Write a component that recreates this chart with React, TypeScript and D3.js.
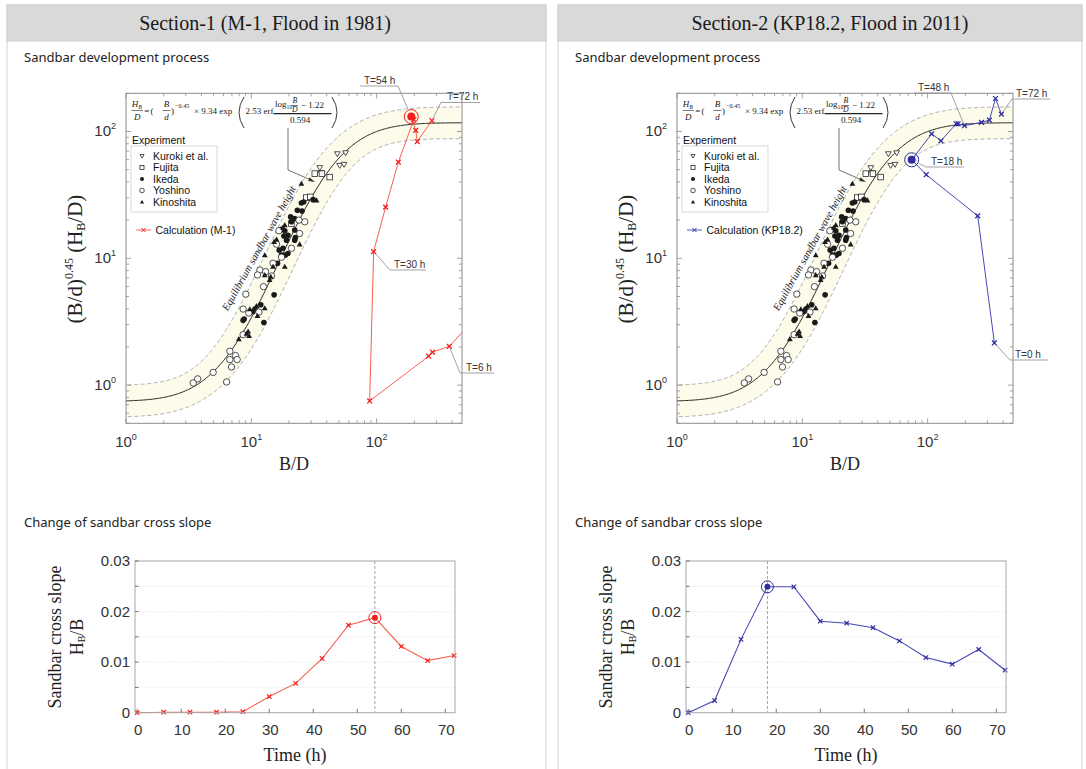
import React from "react";
import * as d3 from "d3";

// ---------------- data ----------------
const hours = [0, 6, 12, 18, 24, 30, 36, 42, 48, 54, 60, 66, 72];
const slopeM1 = [0, 0.0001, 0.0001, 0.0001, 0.0002, 0.0032, 0.0058, 0.0107, 0.0173, 0.0188, 0.0131, 0.0103, 0.0113];
const slopeKP = [0, 0.0024, 0.0145, 0.0249, 0.0249, 0.0181, 0.0177, 0.0168, 0.0142, 0.0109, 0.0096, 0.0125, 0.0084];

const calcM1BD = [600, 380, 279, 260, 88, 94.6, 118, 149, 198, 189, 205, 211, 276];
const calcM1Y = [3.3, 2.02, 1.82, 1.69, 0.75, 11.3, 25.3, 57.3, 124, 131, 102, 83.3, 122];
const calcKPBD = [341, 251, 97.5, 74.6, 107.6, 127.6, 169, 175, 197, 269, 311, 348, 388];
const calcKPY = [2.15, 21.6, 45.6, 59.8, 95.7, 84.4, 115, 115, 111, 118, 123, 182, 137];

const kuroki: [number, number][] = [[48.6, 66.7], [56.6, 67.9], [50.7, 54.0], [54.9, 55.0], [35.8, 47.3], [35.2, 51.8]];
const fujita: [number, number][] = [[32.1, 46.5], [36.6, 46.5], [42.2, 43.7], [27.5, 30.1], [29.6, 30.5], [20.9, 18.8]];
const ikeda: [number, number][] = [
  [25.1, 27.3], [26.2, 27.8], [31.1, 29.0], [23.3, 23.9], [25.4, 23.6], [22.2, 20.6], [20.6, 21.2], [17.4, 16.9],
  [18.5, 16.5], [18.2, 15.0], [19.6, 15.2], [22.2, 16.7], [19.1, 13.9], [16.7, 11.6], [17.9, 12.0], [17.4, 10.6],
  [18.7, 10.6], [19.6, 10.9], [16.2, 9.14], [22.2, 13.9], [15.2, 5.15], [11.9, 4.3], [10.7, 3.98], [10.3, 3.81],
  [8.77, 3.32], [8.6, 3.24], [12.6, 3.12], [20.9, 19.4], [22.5, 14.6],
];
const kinoshita: [number, number][] = [
  [25.1, 38.8], [33.1, 28.7], [18.5, 18.3], [17.9, 17.5], [15.9, 14.1], [15.2, 13.5], [24.3, 12.9], [12.8, 10.6],
  [18.5, 8.59], [14.9, 8.59], [12.8, 7.39], [14.3, 7.17], [9.73, 3.98], [11.0, 4.22], [12.8, 4.05], [11.2, 3.52],
  [9.43, 2.65], [9.16, 2.55], [9.6, 2.45], [7.95, 2.31], [14.0, 6.76],
];
const yoshino: [number, number][] = [
  [26.7, 19.4], [24.0, 20.0], [24.3, 15.7], [16.6, 16.5], [20.9, 12.0], [15.9, 12.9], [17.4, 10.2], [11.7, 8.09],
  [13.0, 7.85], [11.2, 7.39], [12.5, 5.98], [9.04, 5.22], [8.6, 3.98], [9.55, 3.7], [11.5, 3.77], [8.6, 2.5],
  [6.74, 1.85], [6.74, 1.59], [7.48, 1.71], [7.71, 1.59], [6.95, 1.39], [4.96, 1.26], [3.73, 1.12], [3.44, 1.04],
  [6.35, 1.06], [14.9, 9.14], [14.5, 7.26],
];

const legendNames = ["Kuroki et al.", "Fujita", "Ikeda", "Yoshino", "Kinoshita"];
const decadeTicks = [1, 10, 100];
const decadeExp = ["0", "1", "2"];
const slopeTicks = [0, 0.01, 0.02, 0.03];
const slopeTickLabels = ["0", "0.01", "0.02", "0.03"];
const timeTicks = [0, 10, 20, 30, 40, 50, 60, 70];

// Formula parameters shown in the chart
const eqA = 9.34, eqB = 2.53, eqC = 1.22, eqS = 0.594;
const bandDecades = 0.125;

// ---------------- styles ----------------
const SERIF = "'Liberation Serif','Times New Roman',Times,serif";
const SANS = "'Liberation Sans',Arial,Helvetica,sans-serif";
const UI = "'Noto Sans','Open Sans',sans-serif";

function erf(v: number) {
  const s = Math.sign(v);
  const x = Math.abs(v);
  const t = 1 / (1 + 0.3275911 * x);
  const y = 1 - ((((1.061405429 * t - 1.453152027) * t + 1.421413741) * t - 0.284496736) * t + 0.254829592) * t * Math.exp(-x * x);
  return s * y;
}
const eqLog = (lx: number) => Math.log10(eqA * Math.exp(eqB * erf((lx - eqC) / eqS)));

function XMark({ cx, cy, s = 2.4, color, w = 1.3 }: any) {
  return (
    <path d={`M${cx - s},${cy - s}L${cx + s},${cy + s}M${cx - s},${cy + s}L${cx + s},${cy - s}`} stroke={color} strokeWidth={w} fill="none" />
  );
}

function Sym({ kind, cx, cy, k = 1 }: any) {
  const c = "#1a1a1a";
  if (kind === 0) {
    const a = 2.9 * k;
    return <path d={`M${cx - a},${cy - a * 0.7}L${cx + a},${cy - a * 0.7}L${cx},${cy + a}Z`} fill="#fff" stroke={c} strokeWidth={0.75} />;
  }
  if (kind === 1) {
    const a = 2.8 * k;
    return <rect x={cx - a} y={cy - a} width={2 * a} height={2 * a} fill="#fff" stroke={c} strokeWidth={0.75} />;
  }
  if (kind === 2) return <circle cx={cx} cy={cy} r={2.8 * k} fill={c} />;
  if (kind === 3) return <circle cx={cx} cy={cy} r={3.2 * k} fill="#fff" stroke={c} strokeWidth={0.75} />;
  const a = 2.9 * k;
  return <path d={`M${cx},${cy - a}L${cx + a},${cy + a * 0.75}L${cx - a},${cy + a * 0.75}Z`} fill={c} />;
}

function Formula({ dx }: { dx: number }) {
  const X = (v: number) => v + dx;
  const st = "#222";
  return (
    <g fontFamily={SERIF} fontSize={9} fill={st}>
      <text x={X(131.8)} y={107} fontStyle="italic">H<tspan fontSize={5.8} dy={1.5}>B</tspan></text>
      <line x1={X(131.5)} x2={X(143)} y1={110.5} y2={110.5} stroke={st} strokeWidth={0.6} />
      <text x={X(137.2)} y={119.5} fontStyle="italic" textAnchor="middle">D</text>
      <text x={X(146.8)} y={113.8} textAnchor="middle">=</text>
      <text x={X(152)} y={114} textAnchor="middle">(</text>
      <text x={X(166.5)} y={107} fontStyle="italic" textAnchor="middle">B</text>
      <line x1={X(162.5)} x2={X(170.5)} y1={110.5} y2={110.5} stroke={st} strokeWidth={0.6} />
      <text x={X(166.5)} y={119.5} fontStyle="italic" textAnchor="middle">d</text>
      <text x={X(172.6)} y={114} textAnchor="middle">)</text>
      <text x={X(175)} y={108} fontSize={6.2}>−0.45</text>
      <text x={X(194)} y={113.8}>× 9.34 exp</text>
      <path d={`M${X(244)},${97}Q${X(234)},${112.5} ${X(244)},${128}`} stroke={st} strokeWidth={0.9} fill="none" />
      <text x={X(245.5)} y={113.8}>2.53 erf</text>
      <text x={X(275)} y={107}>log<tspan fontSize={5.8} dy={1.5}>10</tspan></text>
      <text x={X(294.8)} y={103} fontStyle="italic" fontSize={7.8} textAnchor="middle">B</text>
      <line x1={X(291.5)} x2={X(298)} y1={105.5} y2={105.5} stroke={st} strokeWidth={0.6} />
      <text x={X(294.8)} y={112} fontStyle="italic" fontSize={7.8} textAnchor="middle">D</text>
      <text x={X(301)} y={107.5}>−  1.22</text>
      <line x1={X(273.5)} x2={X(331.5)} y1={113.6} y2={113.6} stroke={st} strokeWidth={1.4} />
      <text x={X(300)} y={122.8} textAnchor="middle">0.594</text>
      <path d={`M${X(332)},${97}Q${X(342)},${112.5} ${X(332)},${128}`} stroke={st} strokeWidth={0.9} fill="none" />
    </g>
  );
}

type Note = { i: number; text: string; tx: number; u1: number; u2: number; uy: number; lead: number };

function TopPlot({ dx, bd, yv, peak, color, lineColor, calcLabel, notes, id }: any) {
  const L = 126 + dx, R = 462 + dx, T = 93.3, B = 423.3;
  const x = d3.scaleLog().domain([1, 480]).range([L, R]);
  const y = d3.scaleLog().domain([0.5, 200]).range([B, T]);

  // equilibrium curve and band (normal offset in log-log space)
  const lxs = d3.range(-0.4, 3.01, 0.01);
  const core = lxs.map((lx) => [lx, eqLog(lx)] as [number, number]);
  const up: [number, number][] = [];
  const lo: [number, number][] = [];
  core.forEach(([lx, ly]) => {
    const h = 0.001;
    const sl = (eqLog(lx + h) - eqLog(lx - h)) / (2 * h);
    const n = Math.sqrt(1 + sl * sl);
    const nx = -sl / n, ny = 1 / n;
    up.push([lx + bandDecades * nx, ly + bandDecades * ny]);
    lo.push([lx - bandDecades * nx, ly - bandDecades * ny]);
  });
  const toPx = (p: [number, number]) => [x(Math.pow(10, p[0])), y(Math.pow(10, p[1]))] as [number, number];
  const ln = d3.line();
  const corePath = ln(core.map(toPx))!;
  const upPath = ln(up.map(toPx))!;
  const loPath = ln(lo.map(toPx))!;
  const bandPath = ln([...up.map(toPx), ...lo.slice().reverse().map(toPx)])! + "Z";

  const calcPts = bd.map((v: number, k: number) => [x(v), y(yv[k])] as [number, number]);
  const calcPath = ln(calcPts)!;

  // ticks
  const xMinor: number[] = [];
  decadeTicks.forEach((d) => { for (let k = 1; k <= 9; k++) if (k * d <= 480) xMinor.push(k * d); });
  const yMinor: number[] = [];
  [0.1, 1, 10, 100].forEach((d) => { for (let k = 1; k <= 9; k++) if (k * d >= 0.5 && k * d <= 200) yMinor.push(k * d); });
  const tk = "#8c8c8c";
  const sets = [kuroki, fujita, ikeda, yoshino, kinoshita];

  return (
    <g>
      <defs>
        <clipPath id={id}><rect x={L} y={T} width={R - L} height={B - T} /></clipPath>
      </defs>
      <g clipPath={`url(#${id})`}>
        <path d={bandPath} fill="#fdfbe9" />
        <path d={upPath} fill="none" stroke="#9a9a9a" strokeWidth={0.8} strokeDasharray="4,2.5" />
        <path d={loPath} fill="none" stroke="#9a9a9a" strokeWidth={0.8} strokeDasharray="4,2.5" />
        <path d={corePath} fill="none" stroke="#111" strokeWidth={0.9} />
        {sets.map((s, kind) => s.map((p, j) => <Sym key={kind + "-" + j} kind={kind} cx={x(p[0])} cy={y(p[1])} />))}
      </g>
      {/* equilibrium text */}
      <text transform={`translate(${262 + dx},250) rotate(-61)`} textAnchor="middle" fontFamily={SERIF} fontStyle="italic" fontSize={10.5} fill="#222">Equilibrium sandbar wave height</text>
      <Formula dx={dx} />
      {/* leader from formula */}
      <path d={`M${288 + dx},128L${288 + dx},170L${312 + dx},180.5`} fill="none" stroke="#333" strokeWidth={0.7} />
      <path d={`M${315 + dx},182L${309.5 + dx},177.3L${308.2 + dx},181Z`} fill="#333" />
      {/* legend */}
      <g fontFamily={SANS} fontSize={10.5} fill="#111">
        <text x={132 + dx} y={144}>Experiment</text>
        <rect x={131 + dx} y={146} width={86} height={66} fill="none" stroke="#d0d0d0" strokeWidth={0.8} />
        {legendNames.map((nm, k) => (
          <g key={nm}>
            <Sym kind={k} cx={142 + dx} cy={156 + k * 11.5} k={0.72} />
            <text x={153 + dx} y={159.8 + k * 11.5}>{nm}</text>
          </g>
        ))}
        <line x1={136 + dx} x2={151 + dx} y1={230} y2={230} stroke={lineColor} strokeWidth={0.9} />
        <XMark cx={143.5 + dx} cy={230} s={2} color={color} w={1} />
        <text x={155.5 + dx} y={233.8}>{calcLabel}</text>
      </g>
      {/* calculation series */}
      <g clipPath={`url(#${id})`}>
        <path d={calcPath} fill="none" stroke={lineColor} strokeWidth={1} />
        {calcPts.map((p: [number, number], k: number) => (k === peak ? null : <XMark key={k} cx={p[0]} cy={p[1]} color={color} />))}
        <circle cx={calcPts[peak][0]} cy={calcPts[peak][1]} r={7} fill="none" stroke={color} strokeWidth={1} />
        <circle cx={calcPts[peak][0]} cy={calcPts[peak][1]} r={4} fill={color} />
      </g>
      {/* annotations */}
      {notes.map((nt: Note) => {
        const p = calcPts[nt.i];
        const sx = nt.lead, sy = nt.uy;
        const vx = p[0] - sx, vy = p[1] - sy;
        const d = Math.sqrt(vx * vx + vy * vy);
        const off = nt.i === peak ? 8 : 2.5;
        const ex = p[0] - (vx / d) * off, ey = p[1] - (vy / d) * off;
        return (
          <g key={nt.text}>
            <line x1={nt.u1} x2={nt.u2} y1={nt.uy} y2={nt.uy} stroke="#8a8a8a" strokeWidth={0.8} />
            <line x1={sx} y1={sy} x2={ex} y2={ey} stroke="#8a8a8a" strokeWidth={0.8} />
            <text x={nt.tx} y={nt.uy - 2.5} fontFamily={SANS} fontSize={10} fill="#333">{nt.text}</text>
          </g>
        );
      })}
      {/* frame & ticks */}
      <rect x={L} y={T} width={R - L} height={B - T} fill="none" stroke={tk} strokeWidth={1} />
      {xMinor.map((v) => {
        const len = decadeTicks.includes(v) ? 5 : 3;
        return (
          <g key={"x" + v}>
            <line x1={x(v)} x2={x(v)} y1={B} y2={B - len} stroke={tk} strokeWidth={0.8} />
            <line x1={x(v)} x2={x(v)} y1={T} y2={T + len} stroke={tk} strokeWidth={0.8} />
          </g>
        );
      })}
      {yMinor.map((v) => {
        const len = decadeTicks.includes(v) ? 5 : 3;
        return (
          <g key={"y" + v}>
            <line x1={L} x2={L + len} y1={y(v)} y2={y(v)} stroke={tk} strokeWidth={0.8} />
            <line x1={R} x2={R - len} y1={y(v)} y2={y(v)} stroke={tk} strokeWidth={0.8} />
          </g>
        );
      })}
      <g fontFamily={SANS} fontSize={15} fill="#333">
        {decadeTicks.map((v, k) => (
          <text key={"xl" + v} x={x(v)} y={447} textAnchor="middle">10<tspan fontSize={9} dy={-7}>{decadeExp[k]}</tspan></text>
        ))}
        {decadeTicks.map((v, k) => (
          <text key={"yl" + v} x={L - 10} y={y(v) + 5} textAnchor="end">10<tspan fontSize={9} dy={-7}>{decadeExp[k]}</tspan></text>
        ))}
      </g>
      <text x={(L + R) / 2} y={470} textAnchor="middle" fontFamily={SERIF} fontSize={18} fill="#222">B/D</text>
      <text transform={`translate(${82 + dx},259) rotate(-90)`} textAnchor="middle" fontFamily={SERIF} fontSize={21} fill="#222">
        (B/d)<tspan fontSize={12} dy={-9}>0.45</tspan><tspan dy={9}> (H</tspan><tspan fontSize={12} dy={3}>B</tspan><tspan dy={-3}>/D)</tspan>
      </text>
    </g>
  );
}

function BottomPlot({ dx, values, peak, color, lineColor }: any) {
  const L = 135 + dx, R = 455 + dx, T = 561, B = 712.7;
  const x = d3.scaleLinear().domain([-0.5, 72.2]).range([L, R]);
  const y = d3.scaleLinear().domain([0, 0.03]).range([B, T]);
  const pts = hours.map((h, k) => [x(h), y(values[k])] as [number, number]);
  const path = d3.line()(pts)!;
  const grid = d3.range(0.005, 0.0301, 0.005);
  const tk = "#a8a8a8";
  return (
    <g>
      {grid.map((g) => (
        <line key={g} x1={L} x2={R} y1={y(g)} y2={y(g)} stroke="#ececec" strokeWidth={0.8} strokeDasharray="2,1" />
      ))}
      <line x1={x(hours[peak])} x2={x(hours[peak])} y1={T} y2={B} stroke="#8a8a8a" strokeWidth={0.8} strokeDasharray="3,2" />
      <path d={path} fill="none" stroke={lineColor} strokeWidth={1.1} />
      {pts.map((p, k) => (k === peak ? null : <XMark key={k} cx={p[0]} cy={p[1]} s={2.2} color={color} w={1.2} />))}
      <circle cx={pts[peak][0]} cy={pts[peak][1]} r={6} fill="none" stroke={color} strokeWidth={1} />
      <circle cx={pts[peak][0]} cy={pts[peak][1]} r={3} fill={color} />
      <rect x={L} y={T} width={R - L} height={B - T} fill="none" stroke={tk} strokeWidth={1} />
      {grid.map((g) => (
        <line key={"t" + g} x1={L} x2={L + 3.5} y1={y(g)} y2={y(g)} stroke="#555" strokeWidth={0.8} />
      ))}
      {timeTicks.map((t) => (
        <line key={"xt" + t} x1={x(t)} x2={x(t)} y1={B} y2={B - 4} stroke="#555" strokeWidth={0.8} />
      ))}
      <g fontFamily={SANS} fontSize={15} fill="#333">
        {slopeTicks.map((v, k) => (
          <text key={v} x={L - 5} y={y(v) + 5} textAnchor="end">{slopeTickLabels[k]}</text>
        ))}
        {timeTicks.map((t) => (
          <text key={"tl" + t} x={x(t) + 1} y={735} textAnchor="middle">{t}</text>
        ))}
      </g>
      <text x={(L + R) / 2} y={761} textAnchor="middle" fontFamily={SERIF} fontSize={18} fill="#222">Time (h)</text>
      <text transform={`translate(${61 + dx},637) rotate(-90)`} textAnchor="middle" fontFamily={SERIF} fontSize={18} fill="#222">Sandbar cross slope</text>
      <text transform={`translate(${83 + dx},637) rotate(-90)`} textAnchor="middle" fontFamily={SERIF} fontSize={18} fill="#222">
        H<tspan fontSize={10} dy={2}>B</tspan><tspan dy={-2}>/B</tspan>
      </text>
    </g>
  );
}

const notesM1: Note[] = [
  { i: 9, text: "T=54 h", tx: 364, u1: 360, u2: 398, uy: 86, lead: 398 },
  { i: 12, text: "T=72 h", tx: 447, u1: 441, u2: 480, uy: 102.5, lead: 441 },
  { i: 5, text: "T=30 h", tx: 394, u1: 390, u2: 426, uy: 270, lead: 390 },
  { i: 1, text: "T=6 h", tx: 466, u1: 460, u2: 494, uy: 373, lead: 460 },
];
const notesKP: Note[] = [
  { i: 8, text: "T=48 h", tx: 918, u1: 914, u2: 951, uy: 93, lead: 951 },
  { i: 12, text: "T=72 h", tx: 1016, u1: 1012, u2: 1050, uy: 99, lead: 1012 },
  { i: 3, text: "T=18 h", tx: 931, u1: 926, u2: 964, uy: 167, lead: 926 },
  { i: 0, text: "T=0 h", tx: 1015, u1: 1010, u2: 1048, uy: 360, lead: 1010 },
];

function Panel({ px, pw, title, titleX }: any) {
  return (
    <g>
      <rect x={px} y={5} width={pw} height={800} fill="#fff" stroke="#d4d4d4" strokeWidth={1} />
      <rect x={px} y={5} width={pw} height={36} fill="#d9d9d9" stroke="#cfcfcf" strokeWidth={1} />
      <text x={titleX} y={30} textAnchor="middle" fontFamily={SERIF} fontSize={20} fill="#1a1a1a">{title}</text>
      <text x={px + 17} y={62} fontFamily={UI} fontSize={13} fill="#222">Sandbar development process</text>
      <text x={px + 17} y={527} fontFamily={UI} fontSize={13} fill="#222">Change of sandbar cross slope</text>
    </g>
  );
}

export default function App() {
  const red = "#f41f1f", redLine = "#f5604f";
  const blue = "#2e2e9e", blueLine = "#4848b4";
  return (
    <svg width={1086} height={769} style={{ position: "absolute", left: 0, top: 0, background: "#fff" }} xmlns="http://www.w3.org/2000/svg">
      <rect width={1086} height={769} fill="#fff" />
      <Panel px={7} pw={539} title="Section-1 (M-1, Flood in 1981)" titleX={265} />
      <Panel px={558} pw={524} title="Section-2 (KP18.2, Flood in 2011)" titleX={830} />
      <TopPlot id="clipL" dx={0} bd={calcM1BD} yv={calcM1Y} peak={9} color={red} lineColor={redLine} calcLabel="Calculation (M-1)" notes={notesM1} />
      <TopPlot id="clipR" dx={551} bd={calcKPBD} yv={calcKPY} peak={3} color={blue} lineColor={blueLine} calcLabel="Calculation (KP18.2)" notes={notesKP} />
      <BottomPlot dx={0} values={slopeM1} peak={9} color={red} lineColor={redLine} />
      <BottomPlot dx={551} values={slopeKP} peak={3} color={blue} lineColor={blueLine} />
    </svg>
  );
}
